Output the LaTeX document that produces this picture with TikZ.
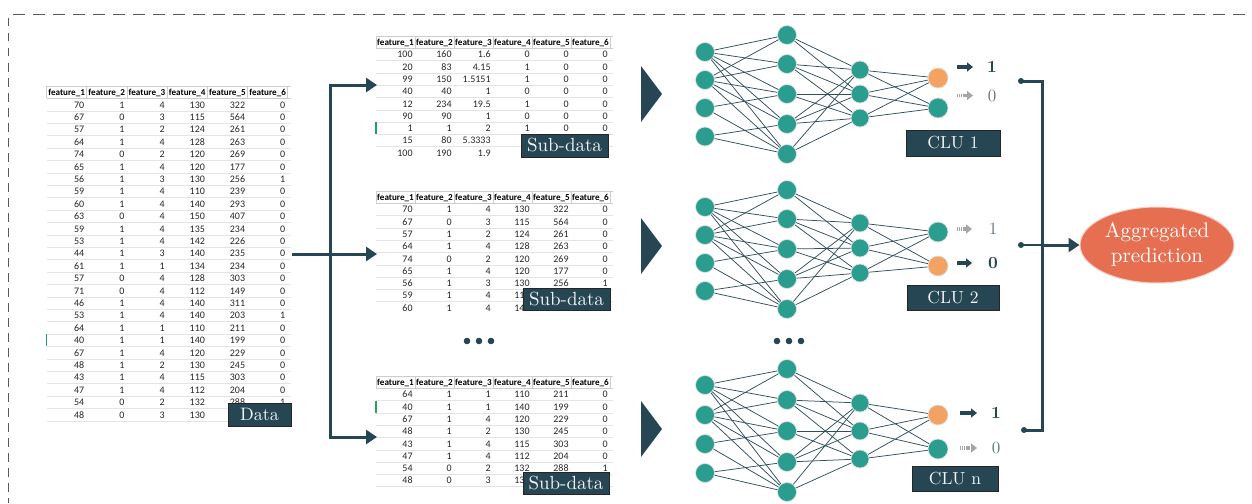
\documentclass[tikz,border=0pt]{standalone}
\usepackage{fontspec}
\newfontfamily\xl{Carlito}
\newfontfamily\tagfont{lmroman10-regular.otf}[BoldFont=lmroman10-bold.otf]
\usetikzlibrary{arrows.meta,shapes.geometric}

\definecolor{ink}{HTML}{264653}
\definecolor{cluteal}{HTML}{2A9D8F}
\definecolor{cluorange}{HTML}{F4A261}
\definecolor{coral}{HTML}{E76F51}
\definecolor{gridgray}{HTML}{E4E4E4}
\definecolor{hdrgray}{HTML}{CDCDCD}
\definecolor{cellink}{HTML}{262626}
\definecolor{xlgreen}{HTML}{21A366}
\definecolor{mutedink}{HTML}{62777F}

% spreadsheet excerpt: #1 name, #2 left, #3 top, #4 column width, #5 row height, #6 rows
\newcommand\sheet[6]{%
  \draw[hdrline] (#2,#3) -- ++({6*#4+3},0);
  \draw[hdrline] (#2,#3) -- ++(0,#5);
  \foreach \k in {1,...,6}{
    \node[hdr] (#1-h\k) at ({#2+(\k-0.5)*#4},{#3+0.5*#5+3.1}) {feature\_\k};
    \draw[hdrline] ({#2+\k*#4},#3) -- ++(0,#5);
  }
  \draw[hdrline] (#2,{#3+#5}) -- ++({6*#4+3},0);
  \foreach \row [count=\r] in {#6}{
    \foreach \v [count=\k] in \row
      \node[cell] (#1-r\r c\k) at ({#2+\k*#4-2.2},{#3+(\r+0.5)*#5+3.4}) {\v};
    \draw[gridline] (#2,{#3+(\r+1)*#5}) -- ++({6*#4+3},0);
  }
}

% one classification unit: #1 name, #2 inputs, #3 first hidden, #4 second hidden, #5 outputs (y/colour)
\newcommand\clunet[5]{%
  \foreach \y [count=\i] in {#2} \node[neuron] (#1a\i) at (705,\y) {};
  \foreach \y [count=\i] in {#3} \node[neuron] (#1b\i) at (787,\y) {};
  \foreach \y [count=\i] in {#4} \node[neuron, minimum size=18pt] (#1c\i) at (860,\y) {};
  \foreach \y/\hue [count=\i] in {#5} \node[neuron, minimum size=20pt, fill=\hue] (#1d\i) at (938,\y) {};
  \foreach \s/\t in {1/1,1/2,1/3,1/4,1/5,2/1,2/2,2/3,2/4,2/5,3/3,3/5,4/4,4/5}
    \draw[edge] (#1a\s) -- (#1b\t);
  \foreach \s/\t in {1/1,1/2,2/1,2/2,2/3,3/2,3/3,4/1,4/2,4/3,5/1,5/3}
    \draw[edge] (#1b\s) -- (#1c\t);
  \foreach \s in {1,2,3}{\draw[edge] (#1c\s) -- (#1d1); \draw[edge] (#1c\s) -- (#1d2);}
}

\begin{document}
\begin{tikzpicture}[x=1pt,y=-1pt,
  hdrline/.style={draw=hdrgray, line width=0.6pt},
  gridline/.style={draw=gridgray, line width=0.6pt},
  hdr/.style={anchor=base, inner sep=0pt, text=black, font=\xl\bfseries\fontsize{9.1}{10}\selectfont},
  cell/.style={anchor=base east, inner sep=0pt, text=cellink, font=\xl\fontsize{10}{11}\selectfont},
  selmark/.style={draw=xlgreen, line width=1.2pt},
  tag/.style={fill=ink, draw=black!85, line width=0.8pt, text=white!94!ink, inner sep=0pt,
    font=\tagfont\fontsize{18}{20}\selectfont},
  flow/.style={draw=ink, line width=3pt, -{Triangle[length=11pt,width=14pt]}},
  link/.style={draw=ink, line width=3pt},
  neuron/.style={circle, fill=cluteal, draw=black!12, line width=0.7pt, minimum size=19pt, inner sep=0pt},
  edge/.style={draw=ink!95, line width=0.75pt},
  pick/.style={draw=ink, line width=3.4pt, -{Triangle[length=6pt,width=9pt]}},
  other/.style={draw=gray!70, line width=3.4pt, dash pattern=on 1.2pt off 0.9pt,
    -{Triangle[length=6pt,width=9pt]}},
  outsel/.style={inner sep=0pt, text=ink, font=\tagfont\bfseries\fontsize{17}{18}\selectfont},
  outoff/.style={inner sep=0pt, text=mutedink, font=\tagfont\fontsize{17}{18}\selectfont},
  dot/.style={circle, fill=ink, inner sep=0pt, minimum size=6pt},
  border/.style={draw=black!65, line width=0.9pt}
]
\useasboundingbox (0,0) rectangle (1252,503);

% outer dashed frame
\draw[border, dash pattern=on 11.5pt off 8.5pt] (13,14) -- (1252,14);
\draw[border, dash pattern=on 8.5pt off 6.5pt] (8,18) -- (8,503);

% full data set
\sheet{m}{46.5}{86}{40.2}{12.4}{{70,1,4,130,322,0},{67,0,3,115,564,0},{57,1,2,124,261,0},
  {64,1,4,128,263,0},{74,0,2,120,269,0},{65,1,4,120,177,0},{56,1,3,130,256,1},
  {59,1,4,110,239,0},{60,1,4,140,293,0},{63,0,4,150,407,0},{59,1,4,135,234,0},
  {53,1,4,142,226,0},{44,1,3,140,235,0},{61,1,1,134,234,0},{57,0,4,128,303,0},
  {71,0,4,112,149,0},{46,1,4,140,311,0},{53,1,4,140,203,1},{64,1,1,110,211,0},
  {40,1,1,140,199,0},{67,1,4,120,229,0},{48,1,2,130,245,0},{43,1,4,115,303,0},
  {47,1,4,112,204,0},{54,0,2,132,288,1},{48,0,3,130}}
\draw[selmark] (46.5,334) -- (46.5,346.4);
\node[tag, minimum width=63pt, minimum height=23pt] (data) at (259.5,414.5) {Data};

% first subset
\begin{scope}
  \clip (370,30) rectangle (625,157);
  \sheet{sa}{376}{36}{39}{12.3}{{100,160,1.6,0,0,0},{20,83,4.15,1,0,0},{99,150,1.5151,1,0,0},
    {40,40,1,0,0,0},{12,234,19.5,1,0,0},{90,90,1,0,0,0},{1,1,2,1,0,0},{15,80,5.3333},{100,190,1.9}}
  \draw[selmark] (376,122.1) -- (376,134.4);
\end{scope}
\node[tag, minimum width=87pt, minimum height=23pt, font=\tagfont\fontsize{19}{20}\selectfont] (suba) at (564.5,145.5) {Sub-data};

% second subset
\begin{scope}
  \clip (370,185) rectangle (625,313);
  \sheet{sb}{376}{191}{39}{12.3}{{70,1,4,130,322,0},{67,0,3,115,564,0},{57,1,2,124,261,0},
    {64,1,4,128,263,0},{74,0,2,120,269,0},{65,1,4,120,177,0},{56,1,3,130,256,1},
    {59,1,4,110},{60,1,4,140}}
\end{scope}
\node[tag, minimum width=87pt, minimum height=22pt, font=\tagfont\fontsize{19}{20}\selectfont] (subb) at (566.5,299) {Sub-data};

% last subset
\sheet{sc}{376}{376}{39}{12.3}{{64,1,1,110,211,0},{40,1,1,140,199,0},{67,1,4,120,229,0},
  {48,1,2,130,245,0},{43,1,4,115,303,0},{47,1,4,112,204,0},{54,0,2,132,288,1},{48,0,3,130}}
\draw[selmark] (376,400.6) -- (376,412.9);
\node[tag, minimum width=86pt, minimum height=22pt, font=\tagfont\fontsize{19}{20}\selectfont] (subc) at (566,483) {Sub-data};

% splitting the data set
\coordinate (dataout) at (292,254);
\coordinate (fork) at (330,254);
\coordinate (ina) at (377,85);
\coordinate (inb) at (377,254);
\coordinate (inc) at (377,437);
\draw[flow] (dataout) -- (inb);
\draw[flow] (fork) |- (ina);
\draw[flow] (fork) |- (inc);

% feed markers
\foreach \cy in {94,246,429}
  \fill[ink] (641,{\cy-28}) -- (662,\cy) -- (641,{\cy+28}) -- cycle;

% ellipsis between subsets and units
\foreach \x in {467,479,491} \fill[ink] (\x,341) circle (3.3pt);
\foreach \x in {777,789,801} \fill[ink] (\x,341) circle (3.3pt);

% classification units
\clunet{A}{52,80,108,136.5}{35,64,94,124,154}{70,94,118}{78/cluorange,108/cluteal}
\clunet{B}{207,235,263,291}{190,219,249,279,309}{223,248,273}{232/cluteal,266/cluorange}
\clunet{C}{385,415,444,473}{369,400,431,462,492}{403,431,459}{415/cluorange,449/cluteal}

\node[tag, minimum width=94pt, minimum height=26pt, font=\tagfont\fontsize{17.5}{19}\selectfont] (clua) at (953,143) {CLU 1};
\node[tag, minimum width=92pt, minimum height=25pt, font=\tagfont\fontsize{17.5}{19}\selectfont] (club) at (953,297.5) {CLU 2};
\node[tag, minimum width=86pt, minimum height=25pt, font=\tagfont\fontsize{17.5}{19}\selectfont] (cluc) at (955,478.5) {CLU n};

% unit outputs
\coordinate (As1) at (957,67);   \coordinate (Ae1) at (973,67);
\coordinate (As2) at (957,95.5); \coordinate (Ae2) at (973,95.5);
\draw[pick] (As1) -- (Ae1);
\draw[other] (As2) -- (Ae2);
\node[outsel] (Al1) at (992,67) {1};
\node[outoff] (Al2) at (992,96) {0};

\coordinate (Bs1) at (957,229); \coordinate (Be1) at (972,229);
\coordinate (Bs2) at (957,263); \coordinate (Be2) at (972,263);
\draw[other] (Bs1) -- (Be1);
\draw[pick] (Bs2) -- (Be2);
\node[outoff] (Bl1) at (993,229) {1};
\node[outsel] (Bl2) at (993,263) {0};

\coordinate (Cs1) at (960,413); \coordinate (Ce1) at (977,413);
\coordinate (Cs2) at (960,448); \coordinate (Ce2) at (977,448);
\draw[pick] (Cs1) -- (Ce1);
\draw[other] (Cs2) -- (Ce2);
\node[outsel] (Cl1) at (996,413) {1};
\node[outoff] (Cl2) at (996,448) {0};

% aggregation
\node[ellipse, fill=coral, draw=coral!35!white, line width=1pt, minimum width=154pt, minimum height=76pt,
  inner sep=0pt, align=center, text=white, font=\tagfont\fontsize{21}{25}\selectfont] (agg) at (1157,245)
  {Aggregated\\prediction};
\node[dot] (Ao) at (1021,81) {};
\node[dot] (Bo) at (1021,245) {};
\node[dot] (Co) at (1024,430) {};
\coordinate (jA) at (1042,81);
\coordinate (jB) at (1042,245);
\coordinate (jC) at (1042,430);
\draw[link] (Ao.center) -- (jA) -- (jC) -- (Co.center);
\draw[link, line width=2pt] (Bo.center) -- (jB);
\draw[flow] (jB) -- (agg);
\end{tikzpicture}
\end{document}
